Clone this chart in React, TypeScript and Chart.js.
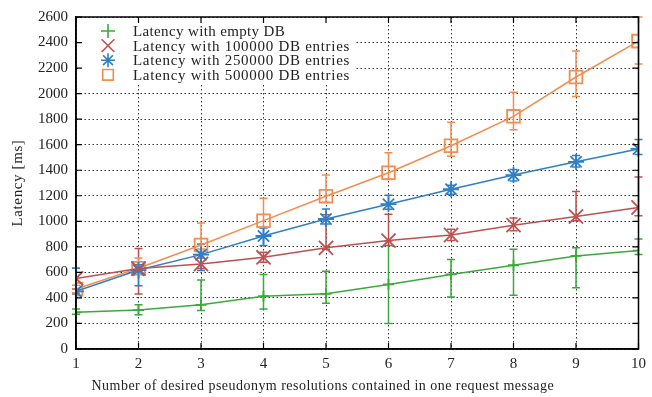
import React, { useEffect, useRef } from 'react';
import { Chart, registerables } from 'chart.js';
import { drawPoint } from 'chart.js/helpers';

Chart.register(...registerables);

// ---------- data ----------
const requests = [1, 2, 3, 4, 5, 6, 7, 8, 9, 10];

const seriesLabels = [
  'Latency with empty DB',
  'Latency with 100000 DB entries',
  'Latency with 250000 DB entries',
  'Latency with 500000 DB entries',
];

const emptyMean = [287, 305, 346, 413, 432, 506, 584, 656, 729, 771];
const emptyLow = [273, 268, 301, 314, 359, 200, 407, 420, 480, 740];
const emptyHigh = [313, 347, 541, 583, 609, 845, 700, 781, 792, 862];

const e100kMean = [553, 630, 666, 718, 792, 849, 893, 970, 1038, 1108];
const e100kLow = [470, 430, 630, 679, 781, 810, 849, 926, 1004, 1043];
const e100kHigh = [633, 787, 713, 757, 1051, 1056, 938, 1025, 1233, 1347];

const e250kMean = [451, 618, 739, 885, 1018, 1134, 1251, 1362, 1466, 1567];
const e250kLow = [430, 495, 614, 810, 979, 1095, 1212, 1316, 1425, 1523];
const e250kHigh = [633, 659, 823, 948, 1097, 1204, 1282, 1406, 1516, 1640];

const e500kMean = [469, 633, 815, 1005, 1196, 1380, 1592, 1822, 2130, 2411];
const e500kLow = [440, 586, 784, 953, 1149, 1328, 1510, 1717, 1977, 2232];
const e500kHigh = [500, 712, 987, 1180, 1363, 1536, 1776, 2011, 2333, 2600];

const yMin = 0;
const yMax = 2600;
const yStep = 200;

const xTitle = 'Number of desired pseudonym resolutions contained in one request message';
const yTitle = 'Latency [ms]';

// ---------- styles ----------
const colors = ['#3aab3a', '#c0504f', '#2f7fc7', '#f58c4f'];
const pointStyles = ['cross', 'crossRot', 'star', 'rect'];
const pointRadii = [5.5, 10, 8, 9];

const means = [emptyMean, e100kMean, e250kMean, e500kMean];
const lows = [emptyLow, e100kLow, e250kLow, e500kLow];
const highs = [emptyHigh, e100kHigh, e250kHigh, e500kHigh];

const serifFont = '"Liberation Serif", "DejaVu Serif", serif';

// draw text in serif, spread to a fixed per-character pitch (like the original's monospaced serif)
function fitText(ctx: any, text: string, x: number, y: number, pitch: number) {
  ctx.letterSpacing = '0px';
  const natural = ctx.measureText(text).width;
  const target = pitch * text.length;
  const extra = (target - natural) / text.length;
  ctx.letterSpacing = extra.toFixed(2) + 'px';
  if (ctx.textAlign === 'center') {
    ctx.textAlign = 'left';
    ctx.fillText(text, x - target / 2, y);
    ctx.textAlign = 'center';
  } else {
    ctx.fillText(text, x, y);
  }
  ctx.letterSpacing = '0px';
}

const gnuplotPlugin = {
  id: 'gnuplotDecor',
  beforeDatasetsDraw(chart: any) {
    const { ctx, chartArea, scales } = chart;
    // legend background (hides grid)
    ctx.save();
    ctx.fillStyle = '#fff';
    ctx.fillRect(chartArea.left + 4, chartArea.top + 4, 274, 62);
    ctx.restore();

    // error bars
    const xs = scales.x;
    const ys = scales.y;
    ctx.save();
    ctx.lineWidth = 1.5;
    chart.data.datasets.forEach((ds: any, i: number) => {
      ctx.strokeStyle = colors[i];
      requests.forEach((r, j) => {
        const px = xs.getPixelForValue(r);
        const lo = ys.getPixelForValue(lows[i][j]);
        const hi = ys.getPixelForValue(highs[i][j]);
        ctx.beginPath();
        ctx.moveTo(px, lo);
        ctx.lineTo(px, hi);
        ctx.moveTo(px - 4, lo);
        ctx.lineTo(px + 4, lo);
        ctx.moveTo(px - 4, hi);
        ctx.lineTo(px + 4, hi);
        ctx.stroke();
      });
    });
    ctx.restore();
  },
  afterDraw(chart: any) {
    const { ctx, chartArea, scales } = chart;
    const { left, right, top, bottom } = chartArea;
    ctx.save();
    // border
    ctx.strokeStyle = '#000';
    ctx.lineWidth = 1.5;
    ctx.strokeRect(left, top, right - left, bottom - top);
    // inward ticks
    ctx.lineWidth = 1.2;
    ctx.beginPath();
    scales.y.ticks.forEach((t: any) => {
      const py = scales.y.getPixelForValue(t.value);
      ctx.moveTo(left, py);
      ctx.lineTo(left + 6, py);
      ctx.moveTo(right, py);
      ctx.lineTo(right - 6, py);
    });
    scales.x.ticks.forEach((t: any) => {
      const px = scales.x.getPixelForValue(t.value);
      ctx.moveTo(px, bottom);
      ctx.lineTo(px, bottom - 6);
      ctx.moveTo(px, top);
      ctx.lineTo(px, top + 6);
    });
    ctx.stroke();

    // legend
    ctx.font = '15px ' + serifFont;
    ctx.textBaseline = 'middle';
    ctx.textAlign = 'left';
    seriesLabels.forEach((lab, i) => {
      const ly = top + 14 + i * 14.6;
      ctx.strokeStyle = colors[i];
      ctx.fillStyle = 'rgba(0,0,0,0)';
      ctx.lineWidth = 1.6;
      drawPoint(ctx, { pointStyle: pointStyles[i], radius: i === 3 ? 7.5 : i === 1 ? 9 : 7, borderWidth: 1.6, rotation: 0 }, left + 32, ly);
      ctx.fillStyle = '#222';
      fitText(ctx, lab, left + 57, ly + 1, 7.24);
    });

    // axis titles
    ctx.fillStyle = '#222';
    ctx.font = '14px ' + serifFont;
    ctx.textAlign = 'center';
    ctx.textBaseline = 'middle';
    fitText(ctx, xTitle, 323, 386, 6.43);
    ctx.translate(18, (top + bottom) / 2);
    ctx.rotate(-Math.PI / 2);
    ctx.font = '15px ' + serifFont;
    fitText(ctx, yTitle, 0, 0, 7.25);
    ctx.restore();
  },
};

export default function App() {
  const canvasRef = useRef<HTMLCanvasElement | null>(null);

  useEffect(() => {
    if (!canvasRef.current) return;
    const datasets = seriesLabels.map((label, i) => ({
      label,
      data: requests.map((r, j) => ({ x: r, y: means[i][j] })),
      borderColor: colors[i],
      backgroundColor: 'rgba(0,0,0,0)',
      pointBorderColor: colors[i],
      pointBackgroundColor: 'rgba(0,0,0,0)',
      pointStyle: pointStyles[i],
      pointRadius: pointRadii[i],
      pointBorderWidth: 1.8,
      borderWidth: 1.5,
      tension: 0,
      fill: false,
    }));

    const chart = new Chart(canvasRef.current, {
      type: 'line',
      data: { datasets },
      plugins: [gnuplotPlugin],
      options: {
        animation: false,
        responsive: false,
        events: [],
        layout: { padding: { left: 0, top: 15, right: 10, bottom: 0 } },
        plugins: {
          legend: { display: false },
          tooltip: { enabled: false },
        },
        scales: {
          x: {
            type: 'linear',
            min: 1,
            max: 10,
            afterFit: (s: any) => {
              s.height = 48;
            },
            ticks: {
              stepSize: 1,
              padding: 6,
              color: '#222',
              font: { family: serifFont, size: 15 },
              callback: (v: any) => String(v),
            },
            grid: {
              color: '#333',
              lineWidth: 1,
              drawTicks: false,
            },
            border: { display: true, color: '#000', width: 1.5, dash: [1.5, 2.5] },
          },
          y: {
            type: 'linear',
            min: yMin,
            max: yMax,
            afterFit: (s: any) => {
              s.width = 76;
            },
            ticks: {
              stepSize: yStep,
              padding: 8,
              color: '#222',
              font: { family: serifFont, size: 15 },
              callback: (v: any) => String(v),
            },
            grid: {
              color: '#333',
              lineWidth: 1,
              drawTicks: false,
            },
            border: { display: true, color: '#000', width: 1.5, dash: [1.5, 2.5] },
          },
        },
      },
    });
    return () => chart.destroy();
  }, []);

  return (
    <div style={{ position: 'fixed', left: 0, top: 0, width: 652, height: 397, background: '#fff' }}>
      <canvas ref={canvasRef} width={652} height={397} style={{ display: 'block' }} />
    </div>
  );
}
